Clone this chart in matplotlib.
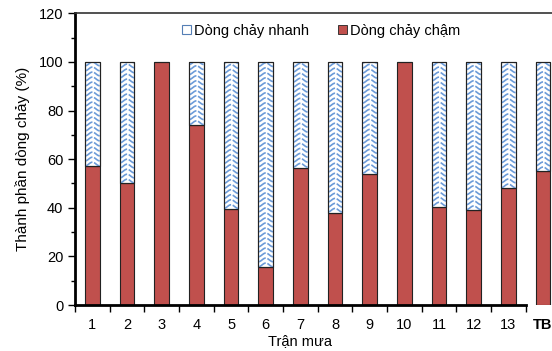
import numpy as np
import matplotlib.pyplot as plt
from matplotlib.patches import Patch

plt.rcParams['font.family'] = ['Liberation Sans', 'DejaVu Sans']

labels = ['1', '2', '3', '4', '5', '6', '7', '8', '9', '10', '11', '12', '13', 'TB']
cham = [57, 50, 100, 74, 39.5, 15.5, 56.5, 38, 54, 100, 40.5, 39, 48, 55]  # dong chay cham
nhanh = [100 - v for v in cham]  # dong chay nhanh

red = '#c0504d'
wave_col = '#6c9bd8'

fig = plt.figure(figsize=(5.52, 3.51), dpi=100)
ax = fig.add_axes([0.136, 0.131, 0.864, 0.831])

x = np.arange(1, len(labels) + 1)
w = 0.42
b1 = ax.bar(x, cham, w, color=red, edgecolor='#222222', linewidth=0.8, zorder=2)
b2 = ax.bar(x, nhanh, w, bottom=cham, color='white', edgecolor='#222222', linewidth=0.8, zorder=2)

# wavy texture inside the "nhanh" bars
for p in b2:
    if p.get_height() <= 0:
        continue
    x0, y0 = p.get_x(), p.get_y()
    bw, bh = p.get_width(), p.get_height()
    xs = np.linspace(x0, x0 + bw, 40)
    for base in np.arange(y0 + 1.0, y0 + bh + 2.5, 2.06):
        ys = base + 0.75 * np.sin(2 * np.pi * (xs - x0) / bw - np.pi / 2)
        ln, = ax.plot(xs, ys, color=wave_col, lw=1.2, dashes=(5, 1), zorder=2.5)
        ln.set_clip_path(p)
    # redraw outline on top
    ax.bar(p.get_x() + bw / 2, bh, bw, bottom=y0, fill=False, edgecolor='#222222', linewidth=0.8, zorder=3)

ax.set_xlim(0.5, 14.26)
ax.set_ylim(0, 120)
ax.set_yticks(np.arange(0, 121, 20))
ax.set_yticks(np.arange(0, 121, 10), minor=True)
ax.set_xticks(x)
ax.set_xticklabels(labels)
ax.set_xticks(np.arange(0.5, 14, 1), minor=True)
ax.get_xticklabels()[-1].set_fontweight('bold')
ax.tick_params(axis='x', which='major', length=0, pad=9, labelsize=10.5)
ax.tick_params(axis='x', which='minor', length=5, width=1, direction='out')
ax.tick_params(axis='y', which='major', length=5, width=1, labelsize=10.5, direction='out')
ax.tick_params(axis='y', which='minor', length=3, width=1, direction='out')

ax.spines['right'].set_visible(False)
ax.spines['left'].set_linewidth(2)
ax.spines['bottom'].set_linewidth(2)
ax.spines['bottom'].set_bounds(0.5, 13.5)
ax.spines['top'].set_linewidth(1.2)
ax.spines['top'].set_color('#333333')

ax.set_xlabel('Trận mưa', fontsize=10.5, labelpad=0)
ax.xaxis.set_label_coords(0.472, -0.1)
ax.set_ylabel('Thành phần dòng chảy (%)', fontsize=11)
ax.yaxis.set_label_coords(-0.095, 0.5)

handles = [Patch(facecolor='white', edgecolor='#557fb5', linewidth=0.8),
           Patch(facecolor=red, edgecolor='#222222', linewidth=0.6)]
ax.legend(handles, ['Dòng chảy nhanh', 'Dòng chảy chậm'], ncol=2, frameon=False,
          fontsize=10.5, loc='center left', bbox_to_anchor=(0.197, 0.94),
          handlelength=0.6, handleheight=0.6, handletextpad=0.2, columnspacing=2.0)

fig.savefig('out.png', dpi=100)
